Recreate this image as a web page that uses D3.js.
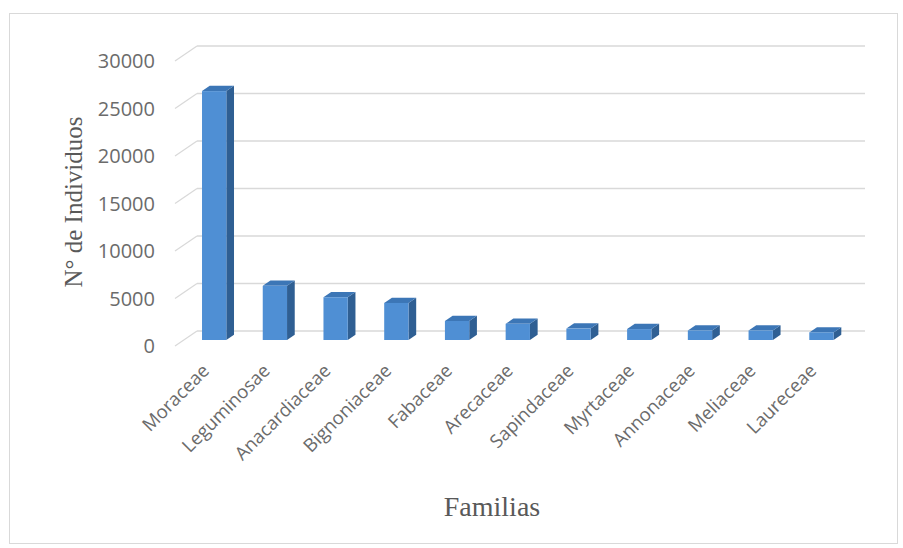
<!DOCTYPE html>
<html>
<head>
<meta charset="utf-8">
<script src="https://cdn.jsdelivr.net/npm/d3@7"></script>
<style>
  html, body { margin: 0; padding: 0; background: #ffffff; }
  svg { display: block; }
</style>
</head>
<body>
<script>
// ---- data ----
const categories = ["Moraceae", "Leguminosae", "Anacardiaceae", "Bignoniaceae", "Fabaceae",
  "Arecaceae", "Sapindaceae", "Myrtaceae", "Annonaceae", "Meliaceae", "Laureceae"];
const values = [26200, 5700, 4500, 3900, 2000, 1700, 1200, 1150, 1000, 1000, 800];
const yTicks = [0, 5000, 10000, 15000, 20000, 25000, 30000];
const yTitle = "N° de Individuos";
const xTitle = "Familias";

// ---- layout ----
const W = 903, H = 548;
const svg = d3.select("body").append("svg").attr("width", W).attr("height", H);

svg.append("rect").attr("x", 9.5).attr("y", 13.5).attr("width", 888).attr("height", 530)
  .attr("fill", "#fff").attr("stroke", "#d9d9d9").attr("stroke-width", 1);

// front plane scales
const x = d3.scaleBand().domain(categories).range([175, 843]).paddingInner(0).paddingOuter(0);
const y = d3.scaleLinear().domain([0, 30000]).range([346, 61]);
const DX = 22, DY = -15;           // full floor depth offset
const f0 = 0.4, f1 = 0.75;         // bar depth fractions
const barFrac = 0.4;

const grid = svg.append("g").attr("stroke", "#d9d9d9").attr("stroke-width", 1.3).attr("fill", "none");
const [r0, r1] = x.range();
yTicks.forEach(t => {
  grid.append("line")
    .attr("x1", r0 + DX).attr("x2", r1 + DX)
    .attr("y1", y(t) + DY).attr("y2", y(t) + DY);
  grid.append("line")
    .attr("x1", r0).attr("y1", y(t))
    .attr("x2", r0 + DX).attr("y2", y(t) + DY);
});

// y tick labels
svg.append("g").selectAll("text").data(yTicks).join("text")
  .attr("x", 155).attr("y", d => y(d))
  .attr("dy", "0.35em")
  .attr("text-anchor", "end")
  .attr("font-family", "Open Sans, sans-serif")
  .attr("font-size", 20)
  .attr("fill", "#6b6b6b")
  .text(d => d);

// bars
const bars = svg.append("g");
const bw = x.bandwidth() * barFrac;
const dd = f1 - f0;
categories.forEach((c, i) => {
  const v = values[i];
  const xl = x(c) + (x.bandwidth() - bw) / 2 + f0 * DX;
  const xr = xl + bw;
  const yT = y(v) + f0 * DY;
  const yB = y(0) + f0 * DY;
  const ox = dd * DX, oy = dd * DY;
  // side
  bars.append("polygon")
    .attr("points", [[xr, yT], [xr + ox, yT + oy], [xr + ox, yB + oy], [xr, yB]].map(p => p.join(",")).join(" "))
    .attr("fill", "#2f5f93");
  // top
  bars.append("polygon")
    .attr("points", [[xl, yT], [xr, yT], [xr + ox, yT + oy], [xl + ox, yT + oy]].map(p => p.join(",")).join(" "))
    .attr("fill", "#3c76b6");
  // front
  bars.append("rect")
    .attr("x", xl).attr("y", yT).attr("width", bw).attr("height", yB - yT)
    .attr("fill", "#4f8fd4");
});

// category labels
svg.append("g").selectAll("text").data(categories).join("text")
  .attr("transform", d => `translate(${x(d) + x.bandwidth() / 2 + 5},372) rotate(-45)`)
  .attr("text-anchor", "end")
  .attr("font-family", "Open Sans, sans-serif")
  .attr("font-size", 18.5)
  .attr("fill", "#6b6b6b")
  .text(d => d);

// axis titles
svg.append("text")
  .attr("transform", "translate(82,202) rotate(-90)")
  .attr("text-anchor", "middle")
  .attr("font-family", "Liberation Serif, Times New Roman, serif")
  .attr("font-size", 25)
  .attr("fill", "#595959")
  .text(yTitle);

svg.append("text")
  .attr("x", 492).attr("y", 516)
  .attr("text-anchor", "middle")
  .attr("font-family", "Liberation Serif, Times New Roman, serif")
  .attr("font-size", 28)
  .attr("fill", "#595959")
  .text(xTitle);
</script>
</body>
</html>
